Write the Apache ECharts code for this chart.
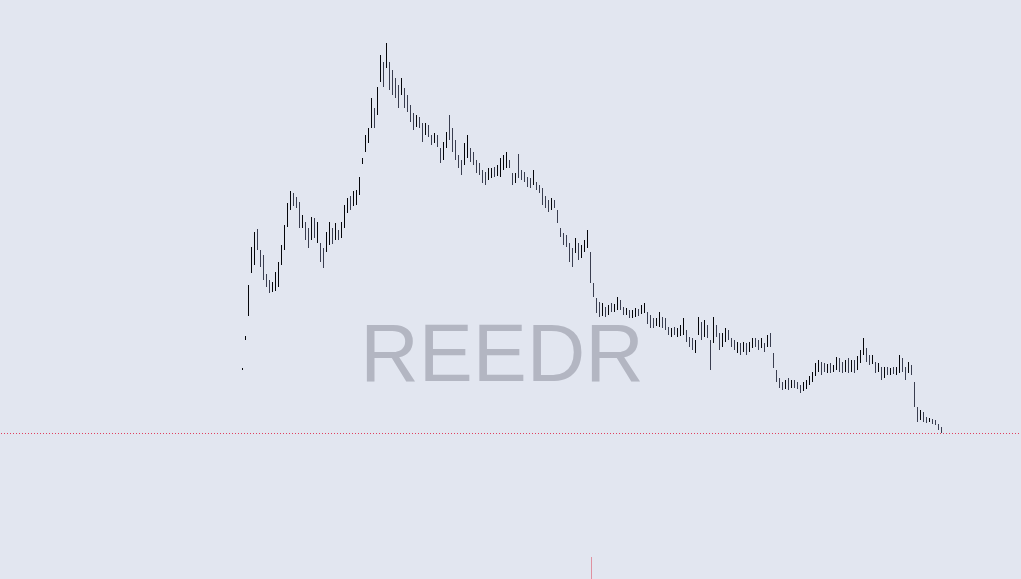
<!DOCTYPE html>
<html>
<head>
<meta charset="utf-8">
<style>
html,body{margin:0;padding:0;background:#e2e6f0;}
#chart{width:1021px;height:579px;}
</style>
<script src="https://cdn.jsdelivr.net/npm/echarts@6/dist/echarts.min.js"></script>
</head>
<body>
<div id="chart"></div>
<script>
// Candle opens (price units)
const opens = [
23.0,26.0,28.4,32.7,33.5,37.1,35.0,34.5,32.6,32.0,
30.8,30.9,31.3,33.5,35.0,37.3,39.0,40.7,40.3,39.8,
37.2,37.8,37.2,36.0,38.2,35.7,35.7,35.2,34.8,35.5,
37.2,36.0,37.0,36.2,37.2,38.7,40.4,39.4,39.5,40.5,
43.6,44.8,45.7,47.2,49.2,48.5,51.8,53.8,53.2,53.8,
53.0,52.2,51.5,50.5,51.2,50.5,49.5,48.7,47.3,48.3,
47.7,46.5,47.5,46.5,45.7,46.5,45.2,44.0,45.2,48.5,
47.2,46.0,44.5,44.0,43.5,44.2,45.2,44.8,44.0,43.7,
43.0,42.8,42.0,42.2,43.3,42.4,42.3,43.0,43.2,44.0,
42.7,41.7,44.6,43.0,42.8,42.3,42.2,41.5,41.8,41.5,
41.2,40.4,40.0,39.0,40.0,39.0,37.2,36.7,36.5,35.7,
35.2,34.7,35.7,34.2,34.8,35.2,34.8,31.7,30.2,29.8,
28.4,29.3,28.5,29.7,28.8,29.0,30.0,29.3,28.5,29.0,
28.2,28.3,29.1,28.6,28.7,28.8,28.5,28.2,27.4,27.3,
28.3,28.2,27.3,26.3,27.3,26.3,26.4,26.5,27.0,26.3,
26.2,24.7,26.5,27.8,26.3,27.5,26.0,25.7,27.5,26.7,
25.3,25.8,27.0,26.2,26.0,24.7,25.7,24.8,25.7,24.8,
25.2,26.2,26.0,25.2,25.7,25.3,26.7,24.7,23.0,22.2,
21.8,21.1,22.2,21.2,22.0,21.8,21.5,20.9,21.1,21.5,
21.8,22.4,22.8,23.8,23.7,22.7,23.7,22.8,23.0,24.2,
23.8,22.8,24.2,22.8,24.0,23.0,23.7,24.5,25.2,24.5,
23.6,23.8,22.8,23.3,22.2,23.3,22.5,23.3,22.5,22.7,
24.2,23.3,22.7,23.5,21.8,19.3,18.0,18.8,18.3,17.8,
18.1,18.0,17.6,17.3
];
// Candle closes (price units)
const closes = [
23.2,26.4,31.5,35.3,36.8,35.0,33.3,32.0,31.3,30.7,
31.8,32.8,33.8,35.5,37.5,39.7,40.9,39.4,39.2,37.2,
38.5,36.0,35.2,38.3,36.2,37.8,33.8,33.2,36.8,37.8,
35.6,37.7,36.0,37.8,39.5,40.2,39.0,40.9,41.0,42.3,
44.2,46.5,47.2,50.2,47.2,51.3,54.5,51.3,55.7,51.0,
50.5,50.2,49.2,52.2,49.2,48.8,47.8,47.0,48.5,47.2,
45.8,47.7,46.3,45.5,46.7,45.3,43.7,45.8,46.8,46.0,
44.8,44.0,43.2,42.5,45.7,46.5,43.8,43.5,42.7,42.5,
41.7,41.5,43.2,43.2,42.3,43.5,44.2,44.5,44.8,43.2,
41.5,42.7,42.2,42.0,41.8,41.3,41.2,43.0,41.0,40.7,
39.5,39.2,38.8,40.2,39.2,37.7,36.3,35.5,35.3,33.8,
33.3,36.2,34.0,35.5,36.0,37.0,31.7,30.3,28.7,28.3,
29.7,28.3,29.5,28.8,29.6,30.3,29.0,28.5,29.2,28.2,
29.0,29.2,28.4,29.5,29.7,27.6,27.2,27.2,28.2,28.8,
27.2,27.0,26.5,27.2,26.5,27.2,27.5,28.2,25.8,25.3,
25.0,26.0,28.3,26.0,28.0,26.2,23.0,28.3,26.3,25.0,
26.7,27.2,26.0,25.3,25.0,25.8,24.5,25.8,24.5,25.8,
26.2,25.3,25.0,26.2,24.8,26.5,25.3,23.2,21.8,21.2,
21.0,22.0,21.0,22.0,21.2,21.1,20.7,21.8,22.0,22.4,
22.8,23.7,24.0,22.5,22.8,23.6,22.7,23.5,24.3,22.8,
22.7,24.0,22.7,24.0,22.7,24.4,25.0,26.2,23.8,23.5,
24.5,22.7,23.7,22.0,23.3,22.5,23.2,22.6,23.3,24.5,
22.8,22.0,23.8,22.5,19.3,17.8,19.0,17.8,17.7,18.2,
17.6,17.5,17.0,16.7
];
const symbolName = 'REEDR';

const padBefore = 80, padAfter = 26;
const total = padBefore + opens.length + padAfter;
const categories = [];
for (let k = 0; k < total; k++) categories.push('t' + k);

const candleData = [];
for (let k = 0; k < padBefore; k++) candleData.push('-');
for (let i = 0; i < opens.length; i++) {
  const o = opens[i], c = closes[i];
  candleData.push([o, c, Math.min(o, c), Math.max(o, c)]);
}
for (let k = 0; k < padAfter; k++) candleData.push('-');
const lastPrice = closes[closes.length - 1];

const chart = echarts.init(document.getElementById('chart'), null, {renderer: 'canvas'});
chart.setOption({
  animation: false,
  backgroundColor: '#e2e6f0',
  grid: {left: 1, width: 1020, top: 0, bottom: 0},
  xAxis: {type: 'category', data: categories, show: false, boundaryGap: true},
  yAxis: {type: 'value', min: 2.1, max: 60, show: false, splitLine: {show: false}},
  graphic: [{
    type: 'text',
    z: 0,
    silent: true,
    style: {
      text: symbolName,
      x: 502, y: 359,
      align: 'center', verticalAlign: 'middle',
      fontSize: 81,
      fontFamily: '"Liberation Sans", Arial, sans-serif',
      fill: '#b3b6c2'
    }
  }],
  series: [{
    type: 'candlestick',
    data: candleData,
    barWidth: 1,
    z: 5,
    itemStyle: {
      color: '#05060a', color0: '#3a3e50',
      borderColor: '#05060a', borderColor0: '#3a3e50',
      borderWidth: 1
    },
    markLine: {
      silent: true,
      symbol: 'none',
      label: {show: false},
      lineStyle: {color: '#e0405e', width: 1, type: [1, 2], opacity: 1},
      data: [{yAxis: lastPrice}]
    }
  }]
});
const markX = chart.convertToPixel({xAxisIndex: 0}, categories[padBefore + 116]);
chart.setOption({
  graphic: [{}, {
    type: 'line', silent: true, z: 10,
    shape: {x1: Math.round(markX) + 0.5, y1: 557, x2: Math.round(markX) + 0.5, y2: 579},
    style: {stroke: 'rgba(220,60,80,0.5)', lineWidth: 1}
  }]
});
</script>
</body>
</html>
